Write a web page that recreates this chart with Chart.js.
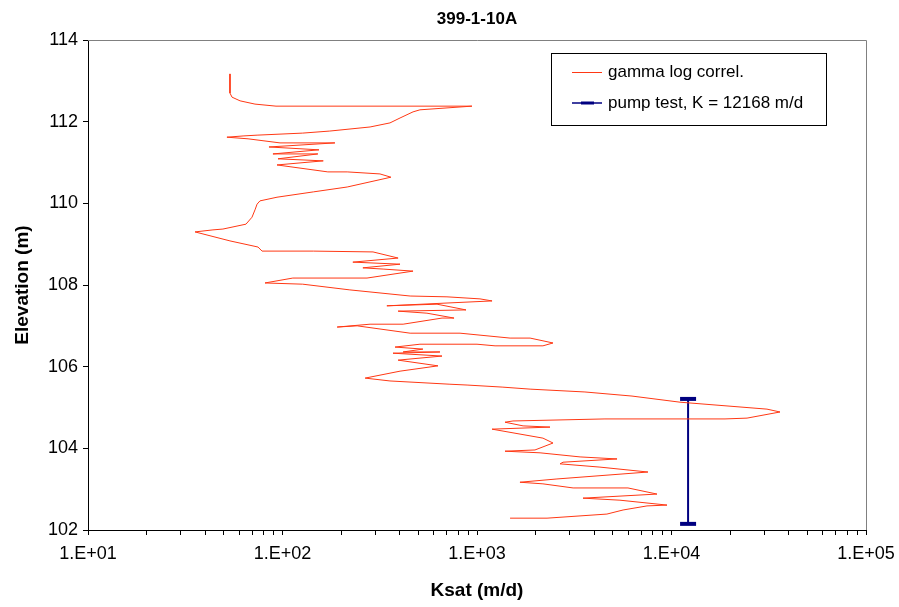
<!DOCTYPE html>
<html>
<head>
<meta charset="utf-8">
<title>399-1-10A</title>
<script src="https://cdn.jsdelivr.net/npm/chart.js@4.4.1/dist/chart.umd.min.js"></script>
<style>
  html, body { margin: 0; padding: 0; background: #fff; }
  #wrap { width: 899px; height: 607px; position: relative; }
</style>
</head>
<body>
<div id="wrap"><canvas id="ksatChart" width="899" height="607"></canvas></div>
<script>
const chartTitle = "399-1-10A";
const xAxisTitle = "Ksat (m/d)";
const yAxisTitle = "Elevation (m)";
const gammaLabel = "gamma log correl.";
const pumpLabel = "pump test, K = 12168 m/d";

// gamma log correlation profile, top of hole to bottom
const gammaKsat = [
  53.7, 53.7, 55.0, 60.5, 72.2, 92.6, 942, 509, 469, 402,
  357, 282, 175, 127, 74.0, 62.7, 51.8, 66.5, 97.1, 186,
  85.2, 154, 89.3, 152, 94.8, 162, 93.7, 171, 215, 317,
  361, 215, 144, 93.7, 76.6, 74.0, 72.2, 69.7, 64.9, 49.4,
  43.9, 35.5, 53.7, 74.8, 78.5, 144, 292, 393, 230, 402,
  259, 329, 469, 272, 113, 81.3, 127, 222, 453, 701,
  1036, 1195, 344, 623, 878, 393, 553, 762, 661, 417,
  282, 191, 242, 453, 818, 1479, 1875, 2459, 2183, 1238,
  1000, 509, 379, 527, 417, 645, 370, 661, 393, 630,
  402, 266, 357, 726, 889, 1346, 1875, 3589, 6266, 11066,
  30970, 36130, 24450, 18840, 4550, 1531, 1393, 1725, 2373, 1195,
  2183, 2459, 1987, 1393, 2109, 3388, 5248, 2768, 2673, 4288,
  7568, 2577, 1663, 2183, 3119, 5974, 8420, 3508, 5433, 9484,
  7482, 5636, 4656, 2291, 1479
];
const gammaElev = [
  113.17, 112.70, 112.60, 112.51, 112.43, 112.38, 112.38, 112.29, 112.24, 112.09,
  111.97, 111.87, 111.77, 111.72, 111.67, 111.65, 111.62, 111.58, 111.48, 111.48,
  111.38, 111.31, 111.21, 111.21, 111.09, 111.04, 110.94, 110.77, 110.77, 110.72,
  110.64, 110.40, 110.28, 110.15, 110.06, 109.98, 109.84, 109.66, 109.49, 109.37,
  109.35, 109.30, 109.08, 108.93, 108.83, 108.83, 108.81, 108.66, 108.56, 108.51,
  108.42, 108.39, 108.34, 108.17, 108.17, 108.05, 108.02, 107.88, 107.73, 107.71,
  107.66, 107.61, 107.49, 107.53, 107.39, 107.36, 107.31, 107.19, 107.19, 107.04,
  107.04, 106.97, 107.00, 106.82, 106.82, 106.70, 106.70, 106.58, 106.51, 106.51,
  106.55, 106.55, 106.48, 106.43, 106.36, 106.36, 106.33, 106.26, 106.16, 106.02,
  105.89, 105.72, 105.65, 105.57, 105.55, 105.50, 105.45, 105.38, 105.28, 105.13,
  104.96, 104.89, 104.74, 104.72, 104.72, 104.67, 104.64, 104.55, 104.52, 104.47,
  104.25, 104.13, 103.96, 103.93, 103.89, 103.79, 103.74, 103.66, 103.62, 103.54,
  103.42, 103.25, 103.17, 103.13, 103.03, 103.03, 102.88, 102.78, 102.73, 102.61,
  102.59, 102.49, 102.39, 102.29, 102.29
];

// pump test result, drawn over the screened interval
const pumpKsat = [12168, 12168];
const pumpElev = [102.15, 105.21];

const xMin = 10, xMax = 100000;
const yMin = 102, yMax = 114, yStep = 2;

const gammaPoints = gammaKsat.map((k, i) => ({ x: k, y: gammaElev[i] }));
const pumpPoints = pumpKsat.map((k, i) => ({ x: k, y: pumpElev[i] }));

const gammaColor = "#ff3814";
const pumpColor = "#000080";
const fontFamily = "'Liberation Sans', Arial, sans-serif";

function sciLabel(v) {
  const e = Math.round(Math.log10(v));
  return "1.E+" + String(e).padStart(2, "0");
}

// plot frame, title and boxed legend
const decorations = {
  id: "decorations",
  afterDraw(chart) {
    const { ctx, chartArea: a } = chart;
    ctx.save();
    ctx.strokeStyle = "#808080";
    ctx.lineWidth = 1;
    ctx.beginPath();
    ctx.moveTo(a.left, a.top + 0.5);
    ctx.lineTo(a.right + 0.5, a.top + 0.5);
    ctx.lineTo(a.right + 0.5, a.bottom);
    ctx.stroke();

    ctx.fillStyle = "#000";
    ctx.font = "bold 17px " + fontFamily;
    ctx.textAlign = "center";
    ctx.textBaseline = "middle";
    ctx.fillText(chartTitle, (a.left + a.right) / 2, 19);

    // legend
    const lx = 551, ly = 53, lw = 275, lh = 72;
    ctx.fillStyle = "#fff";
    ctx.fillRect(lx, ly, lw, lh);
    ctx.strokeStyle = "#000";
    ctx.strokeRect(lx + 0.5, ly + 0.5, lw, lh);

    ctx.strokeStyle = gammaColor;
    ctx.lineWidth = 1;
    ctx.beginPath();
    ctx.moveTo(572, 72.5);
    ctx.lineTo(602, 72.5);
    ctx.stroke();

    ctx.strokeStyle = pumpColor;
    ctx.lineWidth = 1.5;
    ctx.beginPath();
    ctx.moveTo(572, 103);
    ctx.lineTo(602, 103);
    ctx.stroke();
    ctx.lineWidth = 3;
    ctx.beginPath();
    ctx.moveTo(581, 103);
    ctx.lineTo(594, 103);
    ctx.stroke();

    ctx.fillStyle = "#000";
    ctx.font = "17px " + fontFamily;
    ctx.textAlign = "left";
    ctx.fillText(gammaLabel, 608, 72);
    ctx.fillText(pumpLabel, 608, 103);
    ctx.restore();
  }
};

const ctx = document.getElementById("ksatChart").getContext("2d");

new Chart(ctx, {
  type: "scatter",
  data: {
    datasets: [
      {
        label: gammaLabel,
        data: gammaPoints,
        showLine: true,
        borderColor: gammaColor,
        borderWidth: 1,
        pointRadius: 0,
        tension: 0
      },
      {
        label: pumpLabel,
        data: pumpPoints,
        showLine: true,
        borderColor: pumpColor,
        backgroundColor: pumpColor,
        borderWidth: 2,
        pointStyle: "line",
        pointRadius: 8,
        pointBorderWidth: 4,
        pointBorderColor: pumpColor
      }
    ]
  },
  options: {
    responsive: false,
    animation: false,
    events: [],
    layout: { padding: { top: 40, right: 33, left: 0, bottom: 0 } },
    plugins: {
      legend: { display: false },
      title: { display: false },
      tooltip: { enabled: false }
    },
    scales: {
      x: {
        type: "logarithmic",
        min: xMin,
        max: xMax,
        afterBuildTicks(scale) {
          const ticks = [];
          for (let d = xMin; d < xMax; d *= 10) {
            for (let m = 1; m < 10; m++) ticks.push({ value: d * m, major: m === 1 });
          }
          ticks.push({ value: xMax, major: true });
          scale.ticks = ticks;
        },
        afterFit(scale) {
          // keep the end labels from shrinking the plot area
          scale.height = 77;
          scale.paddingLeft = 0;
          scale.paddingRight = 0;
        },
        border: { color: "#000", width: 1 },
        grid: { drawOnChartArea: false, color: "#000", tickLength: 5 },
        ticks: {
          autoSkip: false,
          maxRotation: 0,
          padding: 8,
          color: "#000",
          font: { family: fontFamily, size: 18 },
          callback(value) {
            const e = Math.log10(value);
            return Math.abs(e - Math.round(e)) < 1e-9 ? sciLabel(value) : "";
          }
        },
        title: {
          display: true,
          text: xAxisTitle,
          color: "#000",
          font: { family: fontFamily, size: 19, weight: "bold" },
          padding: { top: 0, bottom: 5 }
        }
      },
      y: {
        type: "linear",
        min: yMin,
        max: yMax,
        afterFit(scale) {
          scale.width = 88;
          scale.paddingTop = 0;
          scale.paddingBottom = 0;
        },
        border: { color: "#000", width: 1 },
        grid: { drawOnChartArea: false, color: "#000", tickLength: 5 },
        ticks: {
          stepSize: yStep,
          padding: 5,
          color: "#000",
          font: { family: fontFamily, size: 18 }
        },
        title: {
          display: true,
          text: yAxisTitle,
          color: "#000",
          font: { family: fontFamily, size: 19, weight: "bold" },
          padding: { top: 11, bottom: 0 }
        }
      }
    }
  },
  plugins: [decorations]
});
</script>
</body>
</html>
